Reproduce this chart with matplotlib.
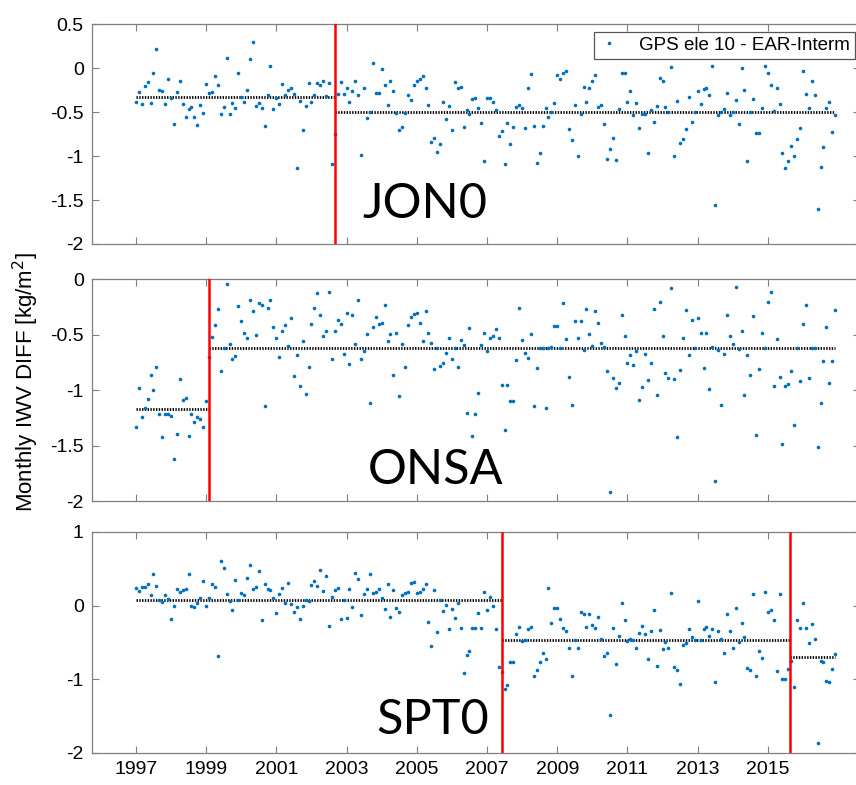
import numpy as np
import matplotlib
matplotlib.use('Agg')
import matplotlib.pyplot as plt
from matplotlib.ticker import FormatStrFormatter

plt.rcParams['font.family'] = ['Liberation Sans', 'DejaVu Sans']
plt.rcParams['axes.unicode_minus'] = False

# monthly IWV differences (GPS - ERA-Interim), Jan 1997 .. Dec 2016, one row per year
start_year = 1997
jon0_diff = [
    -0.39, -0.27, -0.41, -0.20, -0.16, -0.40, -0.06, 0.22, -0.25, -0.26, -0.41, -0.12,
    -0.34, -0.63, -0.27, -0.14, -0.41, -0.56, -0.46, -0.44, -0.55, -0.65, -0.42, -0.51,
    -0.18, -0.28, -0.27, -0.09, -0.19, -0.52, -0.44, 0.12, -0.52, -0.40, -0.45, -0.05,
    -0.33, -0.39, -0.25, 0.11, 0.30, -0.43, -0.40, -0.45, -0.66, -0.30, 0.02, -0.46,
    -0.34, -0.41, -0.18, -0.31, -0.25, -0.23, -0.29, -1.14, -0.37, -0.70, -0.43, -0.17,
    -0.38, -0.31, -0.17, -0.19, -0.14, -0.32, -0.17, -1.09, -0.75, -0.29, -0.16, -0.29,
    -0.23, -0.39, -0.26, -0.14, -0.30, -0.99, -0.23, -0.57, -0.50, 0.06, -0.28, -0.28,
    -0.01, -0.19, -0.42, -0.14, -0.26, -0.51, -0.70, -0.67, -0.51, -0.30, -0.36, -0.19,
    -0.15, -0.12, -0.09, -0.22, -0.42, -0.84, -0.79, -0.95, -0.86, -0.39, -0.58, -0.43,
    -0.70, -0.16, -0.23, -0.21, -0.67, -0.48, -0.52, -0.35, -0.34, -0.45, -0.62, -1.06,
    -0.34, -0.34, -0.39, -0.48, -0.77, -0.71, -1.09, -0.62, -0.86, -0.67, -0.44, -0.42,
    -0.45, -0.68, -0.23, -0.07, -0.66, -1.08, -0.97, -0.66, -0.45, -0.55, -0.50, -0.40,
    -0.08, -0.125, -0.06, -0.03, -0.69, -0.82, -0.42, -1.00, -0.52, -0.21, -0.39, -0.22,
    -0.14, -0.08, -0.44, -0.42, -0.64, -1.03, -0.92, -0.79, -1.05, -0.46, -0.05, -0.05,
    -0.38, -0.26, -0.53, -0.40, -0.68, -0.52, -0.52, -0.96, -0.48, -0.61, -0.43, -0.11,
    -0.15, -0.44, -0.50, 0.015, -1.00, -0.375, -0.85, -0.81, -0.69, -0.33, -0.61, -0.50,
    -0.26, -0.41, -0.24, -0.23, -0.30, 0.02, -1.56, -0.53, -0.50, -0.46, -0.28, -0.53,
    -0.50, -0.36, -0.63, 0.00, -0.25, -1.06, -0.50, -0.35, -0.74, -0.74, -0.45, 0.03,
    -0.06, -0.19, -0.49, -0.22, -0.41, -0.97, -1.14, -1.06, -0.88, -1.00, -0.80, -0.68,
    -0.03, -0.29, -0.45, -0.14, -0.30, -1.60, -1.12, -0.90, -0.45, -0.39, -0.73, -0.53,
]
onsa_diff = [
    -1.33, -0.98, -1.24, -1.16, -1.08, -0.86, -1.00, -0.79, -1.21, -1.42, -1.21, -1.21,
    -1.23, -1.62, -1.39, -0.90, -1.09, -1.07, -1.41, -1.21, -1.29, -1.24, -1.26, -1.33,
    -1.10, -0.70, -0.52, -0.41, -0.27, -0.83, -0.62, -0.04, -0.58, -0.72, -0.69, -0.24,
    -0.38, -0.48, -0.53, -0.19, -0.29, -0.50, -0.21, -0.23, -1.14, -0.26, -0.19, -0.43,
    -0.53, -0.70, -0.47, -0.41, -0.60, -0.35, -0.87, -0.68, -0.96, -0.56, -1.03, -0.79,
    -0.40, -0.26, -0.12, -0.32, -0.51, -0.47, -0.11, -0.72, -0.47, -0.37, -0.40, -0.67,
    -0.30, -0.76, -0.32, -0.58, -0.19, -0.72, -0.65, -0.49, -1.11, -0.43, -0.34, -0.40,
    -0.39, -0.23, -0.56, -0.49, -0.86, -0.48, -1.05, -0.58, -0.79, -0.41, -0.34, -0.31,
    -0.30, -0.39, -0.56, -0.29, -0.48, -0.57, -0.81, -0.62, -0.78, -0.75, -0.66, -0.53,
    -0.72, -0.62, -0.79, -0.55, -0.59, -1.20, -0.44, -1.41, -1.21, -1.02, -0.59, -0.48,
    -0.65, -0.53, -0.51, -0.45, -0.53, -0.95, -1.36, -0.95, -1.10, -1.10, -0.73, -0.26,
    -0.55, -0.66, -0.71, -0.49, -1.14, -0.80, -0.62, -0.62, -1.16, -0.62, -0.61, -0.42,
    -0.42, -0.62, -0.21, -0.54, -0.88, -1.13, -0.38, -0.53, -0.38, -0.64, -0.27, -0.49,
    -0.60, -0.29, -0.39, -0.57, -0.61, -0.83, -1.92, -0.89, -0.98, -0.93, -0.32, -0.51,
    -0.75, -0.68, -0.77, -0.65, -1.09, -0.97, -0.67, -0.91, -0.75, -0.27, -1.04, -0.20,
    -0.51, -0.84, -0.89, -0.08, -0.90, -1.42, -0.82, -0.53, -0.28, -0.68, -0.37, -0.62,
    -0.35, -0.48, -0.80, -0.48, -0.99, -0.61, -1.82, -0.64, -1.13, -0.67, -0.32, -0.51,
    -0.58, -0.07, -0.63, -0.47, -1.04, -0.68, -0.86, -0.33, -1.40, -0.81, -0.48, -0.62,
    -0.20, -0.11, -0.96, -0.54, -0.88, -1.48, -0.96, -0.94, -0.83, -1.31, -0.62, -0.92,
    -0.40, -0.23, -0.89, -0.62, -0.62, -1.51, -1.11, -0.74, -0.43, -0.93, -0.74, -0.28,
]
spt0_diff = [
    0.24, 0.20, 0.26, 0.26, 0.29, 0.14, 0.43, 0.27, 0.08, 0.05, 0.14, 0.09,
    -0.18, 0.00, 0.22, 0.19, 0.21, 0.22, 0.43, 0.00, -0.02, 0.04, 0.11, 0.34,
    0.00, 0.10, 0.29, 0.25, -0.68, 0.61, 0.51, 0.16, 0.06, -0.06, 0.35, 0.08,
    0.17, 0.14, 0.37, 0.55, 0.23, 0.26, 0.47, -0.20, 0.29, 0.23, 0.21, 0.11,
    -0.10, 0.16, 0.24, 0.04, 0.31, 0.02, -0.09, -0.02, -0.18, 0.00, 0.08, 0.06,
    0.28, 0.33, 0.27, 0.48, 0.20, 0.40, -0.27, 0.12, 0.21, 0.24, -0.18, 0.08,
    -0.17, 0.23, -0.02, 0.45, 0.36, -0.13, 0.16, 0.22, 0.43, 0.17, 0.18, 0.23,
    0.10, -0.05, 0.29, -0.15, 0.21, -0.03, -0.09, 0.15, 0.17, 0.18, 0.31, 0.32,
    0.17, 0.18, 0.23, 0.30, -0.22, -0.55, 0.21, -0.36, 0.08, -0.07, 0.01, -0.32,
    -0.05, -0.17, 0.03, -0.31, -0.92, -0.67, -0.62, -0.30, -0.30, -0.10, -0.30, 0.19,
    -0.06, 0.12, 0.00, -0.32, -0.83, -0.90, -1.13, -1.08, -0.77, -0.77, -0.38, -0.29,
    -0.48, -0.46, -0.32, -0.29, -0.95, -0.87, -0.77, -0.64, -0.72, 0.24, -0.24, -0.03,
    -0.03, -0.18, -0.31, -0.34, -0.58, -0.96, -0.46, -0.58, -0.08, -0.11, -0.29, -0.11,
    -0.26, -0.30, -0.16, -0.45, -0.68, -0.64, -1.48, -0.30, -0.79, -0.41, 0.04, -0.20,
    -0.48, -0.45, -0.46, -0.57, -0.37, -0.28, -0.38, -0.72, -0.34, -0.06, -0.82, -0.33,
    -0.59, -0.50, -0.57, 0.17, -0.83, -0.87, -1.07, -0.53, -0.51, -0.32, -0.42, -0.46,
    0.06, -0.47, -0.32, -0.29, -0.41, -0.32, -1.04, -0.34, -0.45, -0.64, -0.12, -0.35,
    -0.58, -0.03, -0.50, -0.23, -0.43, -0.85, -0.87, 0.16, -0.95, -0.61, -0.71, 0.19,
    -0.08, -0.06, -0.19, -0.89, 0.16, -1.00, -1.00, -0.86, -0.75, -1.11, -0.20, -0.30,
    0.03, -0.30, -0.51, -0.25, -0.45, -1.87, -0.75, -0.77, -1.02, -1.04, -0.86, -0.66,
]

# detected breaks (decimal year) and mean offset of each homogeneous segment
jon0_breaks = [2002.67]
jon0_means = [-0.33, -0.50]
onsa_breaks = [1999.08]
onsa_means = [-1.17, -0.62]
spt0_breaks = [2007.43, 2015.64]
spt0_means = [0.08, -0.46, -0.70]

stations = ['JON0', 'ONSA', 'SPT0']
year_ticks = list(range(1997, 2016, 2))
ylims = [(-2, 0.5), (-2, 0), (-2, 1)]
yticks = [[-2, -1.5, -1, -0.5, 0, 0.5], [-2, -1.5, -1, -0.5, 0], [-2, -1, 0, 1]]
label_pos = [(2003.44, -1.70), (2003.6, -1.84), (2003.84, -1.74)]

blue = '#0072BD'
axcol = '#7f7f7f'

fig = plt.figure(figsize=(8.56, 7.85), dpi=100)
boxes = [[0.1075, 0.6892, 0.897, 0.2799],
         [0.1075, 0.3614, 0.897, 0.2828],
         [0.1075, 0.0408, 0.897, 0.2815]]

series = [(jon0_diff, jon0_breaks, jon0_means),
          (onsa_diff, onsa_breaks, onsa_means),
          (spt0_diff, spt0_breaks, spt0_means)]

axes = []
for k, (vals, breaks, means) in enumerate(series):
    ax = fig.add_axes(boxes[k])
    axes.append(ax)
    vals = np.array(vals)
    t = start_year + np.arange(len(vals)) / 12.0

    ax.plot(t, vals, '.', color=blue, ms=3.2, label='GPS ele 10 - EAR-Interm', zorder=3)

    edges = [t[0]] + breaks + [t[-1]]
    for j, m in enumerate(means):
        ax.plot([edges[j], edges[j + 1]], [m, m], color='k', lw=2.0,
                linestyle=(0, (0.5, 0.5)), zorder=2)
    for b in breaks:
        ax.axvline(b, color='red', lw=1.8, zorder=4)

    ax.set_xlim(1995.75, 2017.62)
    ax.set_ylim(*ylims[k])
    ax.set_yticks(yticks[k])
    ax.set_xticks(year_ticks)
    ax.yaxis.set_major_formatter(FormatStrFormatter('%g'))
    ax.tick_params(direction='in', length=5, width=0.8, color=axcol,
                   top=True, right=True, labelsize=14, pad=6)
    for s in ax.spines.values():
        s.set_color(axcol)
        s.set_linewidth(0.9)
    if k < 2:
        ax.set_xticklabels([])

    lx, ly = label_pos[k]
    ax.text(lx, ly, stations[k], fontsize=35, family=['Lato', 'DejaVu Sans'],
            ha='left', va='baseline', zorder=5)

leg = axes[0].legend(loc='upper right', bbox_to_anchor=(855 / 856, 1 - 32 / 785),
                     bbox_transform=fig.transFigure, borderaxespad=0, fontsize=13.5,
                     numpoints=1, markerscale=1.0, fancybox=False, framealpha=1,
                     edgecolor='#555555', handlelength=1.2, handletextpad=1.0,
                     borderpad=0.25)
leg.get_frame().set_linewidth(0.9)

fig.text(0.030, 0.513, 'Monthly IWV DIFF [kg/m$^2$]', rotation=90, fontsize=16,
         ha='center', va='center')

plt.savefig('out.png', dpi=100)
